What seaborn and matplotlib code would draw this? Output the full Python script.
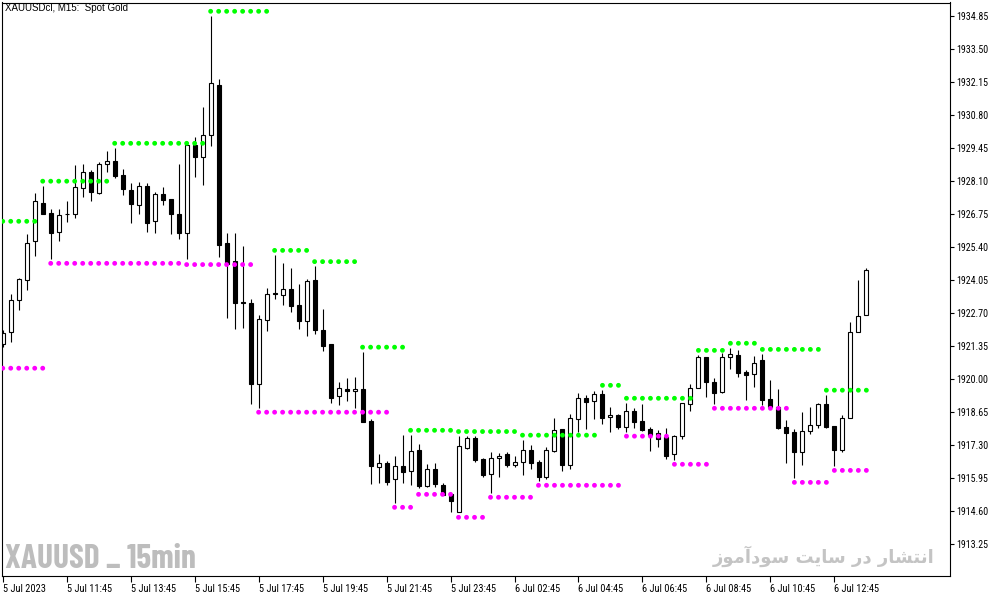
import matplotlib
matplotlib.use("Agg")
import matplotlib.pyplot as plt
import seaborn as sns
import pandas as pd
import numpy as np

# ---------------- data ----------------
opens = [1921.42, 1921.91, 1923.22, 1924.04, 1925.63, 1927.20, 1926.79, 1926.00, 1926.73, 1926.74,
         1927.80, 1928.46, 1927.62, 1928.78, 1928.91, 1928.33, 1927.73, 1927.11, 1927.88, 1926.45,
         1927.57, 1927.35, 1926.74, 1925.96, 1929.56, 1929.07, 1929.97, 1932.01, 1925.55, 1924.83,
         1923.14, 1923.10, 1919.78, 1922.40, 1923.53, 1923.42, 1923.67, 1923.01, 1922.36, 1924.05,
         1922.00, 1921.43, 1919.29, 1919.58, 1919.50, 1919.58, 1918.28, 1916.39, 1916.55, 1915.90,
         1916.43, 1916.22, 1917.08, 1915.63, 1916.31, 1915.65, 1915.30, 1914.54, 1917.19, 1917.57,
         1916.73, 1916.10, 1916.76, 1916.92, 1916.49, 1916.59, 1917.08, 1916.59, 1915.98, 1917.04,
         1917.94, 1916.47, 1918.35, 1919.21, 1919.09, 1919.37, 1918.43, 1918.51, 1918.05, 1918.68,
         1918.28, 1917.94, 1917.78, 1917.62, 1916.92, 1917.66, 1918.96, 1919.62, 1920.89, 1919.86,
         1919.48, 1920.89, 1920.97, 1920.27, 1920.19, 1920.77, 1919.17, 1918.87, 1918.02, 1917.82,
         1917.03, 1917.86, 1918.11, 1918.96, 1918.06, 1917.11, 1918.39, 1921.91, 1922.61]
closes = [1921.87, 1923.23, 1924.08, 1925.55, 1927.27, 1926.76, 1925.98, 1926.70, 1926.75, 1927.84,
          1928.46, 1927.64, 1928.78, 1928.91, 1928.32, 1927.76, 1927.14, 1927.88, 1926.39, 1927.57,
          1927.33, 1926.76, 1925.98, 1929.56, 1929.09, 1929.97, 1932.10, 1925.49, 1924.69, 1923.12,
          1923.11, 1919.78, 1922.44, 1923.46, 1923.49, 1923.67, 1923.00, 1922.36, 1924.00, 1921.99,
          1921.36, 1919.24, 1919.62, 1919.52, 1919.59, 1918.25, 1916.43, 1916.55, 1915.80, 1916.43,
          1916.18, 1917.04, 1915.63, 1916.31, 1915.69, 1915.27, 1915.02, 1917.25, 1917.57, 1916.70,
          1916.09, 1916.76, 1916.84, 1916.49, 1916.59, 1917.08, 1916.55, 1916.00, 1917.08, 1917.90,
          1916.49, 1918.39, 1919.21, 1919.07, 1919.37, 1918.42, 1918.51, 1918.05, 1918.68, 1918.25,
          1917.93, 1917.72, 1917.56, 1916.86, 1917.66, 1919.01, 1919.62, 1920.89, 1919.86, 1919.44,
          1920.89, 1921.01, 1920.26, 1920.18, 1920.64, 1919.15, 1918.87, 1918.01, 1917.80, 1917.03,
          1917.86, 1918.11, 1918.96, 1918.05, 1917.11, 1918.39, 1921.91, 1922.56, 1924.45]
highs = [1922.00, 1923.48, 1924.13, 1925.92, 1927.62, 1927.91, 1926.95, 1926.95, 1927.28, 1928.75,
         1928.80, 1928.54, 1928.86, 1929.33, 1929.44, 1928.59, 1928.02, 1928.05, 1928.02, 1927.64,
         1927.85, 1927.35, 1928.80, 1929.56, 1929.90, 1931.11, 1934.85, 1932.26, 1925.97, 1925.96,
         1925.44, 1923.26, 1922.61, 1923.71, 1925.07, 1924.75, 1924.54, 1923.89, 1924.09, 1924.62,
         1922.86, 1921.43, 1919.88, 1920.03, 1920.08, 1921.10, 1918.35, 1916.92, 1916.65, 1916.85,
         1917.71, 1917.71, 1917.34, 1916.52, 1916.56, 1915.73, 1915.30, 1917.66, 1917.67, 1917.67,
         1916.76, 1917.01, 1916.96, 1917.01, 1916.85, 1917.50, 1917.29, 1916.70, 1917.21, 1918.39,
         1917.97, 1918.56, 1919.42, 1919.33, 1919.51, 1919.54, 1918.84, 1918.56, 1919.01, 1918.81,
         1918.98, 1918.02, 1917.91, 1918.00, 1917.72, 1919.01, 1919.80, 1920.97, 1920.89, 1920.04,
         1921.05, 1921.28, 1921.20, 1920.38, 1920.93, 1921.01, 1919.97, 1919.60, 1918.34, 1917.95,
         1918.65, 1918.87, 1919.01, 1919.35, 1918.06, 1918.54, 1922.33, 1924.05, 1924.54]
lows = [1921.31, 1921.50, 1922.83, 1923.65, 1925.04, 1926.76, 1924.92, 1925.66, 1926.43, 1926.60,
        1927.46, 1927.29, 1927.58, 1928.48, 1928.23, 1927.53, 1926.39, 1926.75, 1926.03, 1925.98,
        1927.13, 1925.94, 1925.74, 1924.90, 1928.28, 1927.92, 1929.54, 1925.00, 1922.51, 1922.06,
        1922.10, 1918.99, 1918.83, 1921.98, 1923.29, 1923.04, 1922.75, 1922.06, 1921.77, 1921.85,
        1921.16, 1919.00, 1918.95, 1919.09, 1918.80, 1918.25, 1915.72, 1915.76, 1915.65, 1914.94,
        1915.76, 1915.68, 1915.53, 1915.57, 1915.58, 1915.27, 1914.57, 1914.54, 1917.14, 1916.59,
        1916.00, 1915.35, 1916.00, 1916.41, 1916.39, 1916.09, 1916.31, 1915.84, 1915.90, 1917.00,
        1916.22, 1916.31, 1917.83, 1917.95, 1918.35, 1918.17, 1917.84, 1917.97, 1917.84, 1918.01,
        1917.88, 1917.07, 1917.23, 1916.74, 1916.70, 1917.56, 1918.70, 1919.62, 1919.28, 1918.99,
        1919.42, 1920.42, 1920.09, 1919.15, 1919.69, 1918.92, 1918.87, 1917.97, 1916.58, 1915.96,
        1916.49, 1917.76, 1918.01, 1918.01, 1916.45, 1917.03, 1918.39, 1921.91, 1922.61]

# resistance (green) and support (magenta) dotted levels: first bar, last bar, price
res_start = [0, 5, 14, 26, 34, 39, 45, 51, 57, 65, 75, 78, 87, 91, 95, 103]
res_end = [4, 13, 25, 33, 38, 44, 50, 56, 64, 74, 77, 86, 90, 94, 102, 108]
res_level = [1926.45, 1928.09, 1929.64, 1935.04, 1925.26, 1924.80, 1921.30, 1917.90,
             1917.85, 1917.70, 1919.74, 1919.21, 1921.17, 1921.46, 1921.21, 1919.54]
sup_start = [0, 6, 23, 32, 49, 52, 57, 61, 67, 78, 84, 89, 99, 104]
sup_end = [5, 22, 31, 48, 51, 56, 60, 66, 77, 83, 88, 98, 103, 108]
sup_level = [1920.44, 1924.73, 1924.68, 1918.64, 1914.75, 1915.28, 1914.34, 1915.16,
             1915.65, 1917.66, 1916.51, 1918.80, 1915.77, 1916.26]

xtick_bars = [0, 8, 16, 24, 32, 40, 48, 56, 64, 72, 80, 88, 96, 104]
xtick_labels = ["5 Jul 2023", "5 Jul 11:45", "5 Jul 13:45", "5 Jul 15:45", "5 Jul 17:45",
                "5 Jul 19:45", "5 Jul 21:45", "5 Jul 23:45", "6 Jul 02:45", "6 Jul 04:45",
                "6 Jul 06:45", "6 Jul 08:45", "6 Jul 10:45", "6 Jul 12:45"]
ytick_values = [1913.25, 1914.60, 1915.95, 1917.30, 1918.65, 1920.00, 1921.35, 1922.70,
                1924.05, 1925.40, 1926.75, 1928.10, 1929.45, 1930.80, 1932.15, 1933.50, 1934.85]

title_text = "XAUUSDcl, M15:  Spot Gold"
watermark_left = "XAUUSD _ 15min"
# "انتشار در سایت سودآموز" written in visual order with Arabic presentation forms
watermark_right = ("\uFEAF\uFEEE\uFEE3\uFE81\uFEA9\uFEEE\uFEB3 "
                   "\uFE96\uFBFE\uFE8E\uFEB3 "
                   "\uFEAD\uFEA9 "
                   "\uFEAD\uFE8E\uFEB8\uFE98\uFEE7\uFE8D")

# ---------------- figure ----------------
sns.set_style("white")
plt.rcParams["font.family"] = ["Roboto Condensed", "DejaVu Sans"]

W, H = 1003, 597
fig = plt.figure(figsize=(W / 100, H / 100), dpi=100)
fig.patch.set_facecolor("white")
ax = fig.add_axes([2.5 / W, (H - 576) / H, (950 - 2.5) / W, (576 - 2.5) / H])
ax.set_facecolor("white")

df = pd.DataFrame({"bar": np.arange(len(opens)), "open": opens, "high": highs,
                   "low": lows, "close": closes})
df["bull"] = df["close"] >= df["open"]
df["bottom"] = df[["open", "close"]].min(axis=1)
df["height"] = (df["close"] - df["open"]).abs()

# wicks and bodies
ax.vlines(df["bar"], df["low"], df["high"], color="black", linewidth=0.8, zorder=1)
ax.bar(df["bar"], df["height"], bottom=df["bottom"], width=0.5,
       color=np.where(df["bull"], "white", "black"), edgecolor="black",
       linewidth=0.8, zorder=2)

# dotted support / resistance levels
rows = []
for s, e, lv in zip(res_start, res_end, res_level):
    for b in range(s, e + 1):
        rows.append({"bar": b, "price": lv, "kind": "res"})
for s, e, lv in zip(sup_start, sup_end, sup_level):
    for b in range(s, e + 1):
        rows.append({"bar": b, "price": lv, "kind": "sup"})
dots = pd.DataFrame(rows)
sns.scatterplot(data=dots, x="bar", y="price", hue="kind",
                palette={"res": "#00ff00", "sup": "#ff00ff"},
                s=12, linewidth=0, marker="o", legend=False, ax=ax, zorder=3)

ax.set_xlim(-0.03, 118.46)
ax.set_ylim(1911.94, 1935.40)

ax.set_xticks(xtick_bars)
ax.set_xticklabels(xtick_labels, ha="left", fontsize=7.5)
ax.set_yticks(ytick_values)
ax.set_yticklabels([f"{v:.2f}" for v in ytick_values], fontsize=7.2)
ax.yaxis.tick_right()
ax.tick_params(axis="y", which="both", right=True, left=False, length=3, width=0.8,
               pad=1.5, colors="black", direction="out")
ax.tick_params(axis="x", which="both", bottom=True, length=4, width=0.8, pad=1.5,
               colors="black", direction="out")
ax.set_xlabel("")
ax.set_ylabel("")
for sp in ax.spines.values():
    sp.set_visible(True)
    sp.set_color("black")
    sp.set_linewidth(0.8)
ax.grid(False)

fig.text(5 / W, 1 - 3 / H, title_text, ha="left", va="top", fontsize=7,
         family=["Liberation Sans", "DejaVu Sans"], color="black")
fig.text(5 / W, 1 - 567.5 / H, watermark_left, ha="left", va="baseline",
         fontsize=24, fontweight="bold", color="#bdbdbd",
         family=["Barlow Condensed", "DejaVu Sans"])
fig.text(935 / W, 1 - 563 / H, watermark_right, ha="right", va="baseline",
         fontsize=13, fontweight="bold", color="#c4c4c4", family=["DejaVu Sans"])

fig.savefig("out.png", dpi=100, facecolor="white")
